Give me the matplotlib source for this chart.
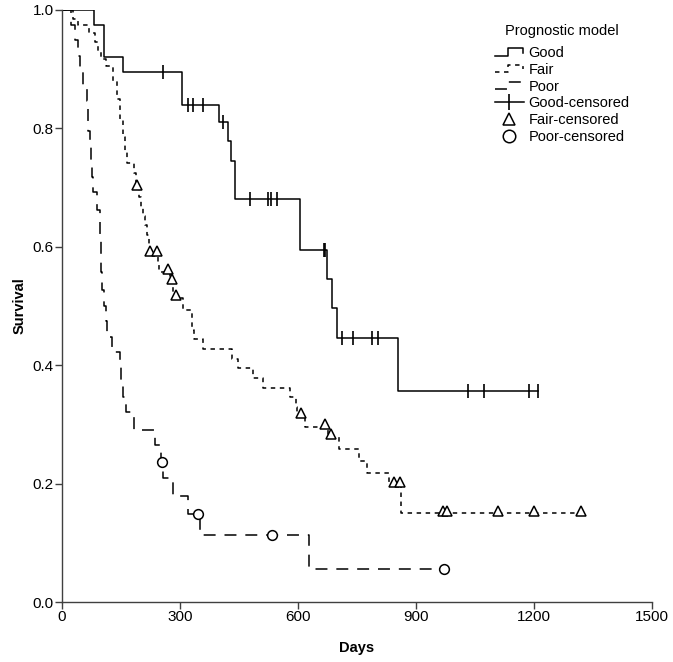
import numpy as np
import matplotlib
matplotlib.use("Agg")
import matplotlib.pyplot as plt
from matplotlib.lines import Line2D
from matplotlib.legend_handler import HandlerBase

plt.rcParams['font.family'] = ['Liberation Sans', 'DejaVu Sans']
plt.rcParams['lines.scale_dashes'] = False

# Kaplan-Meier step data (day of drop, survival after drop)
good_t = [0, 82, 108, 156, 304, 399, 423, 430, 440, 604, 606, 673, 687, 698, 853]
good_s = [1.0, 0.974, 0.921, 0.895, 0.840, 0.810, 0.778, 0.745, 0.680, 0.638, 0.595, 0.545, 0.496, 0.446, 0.357]
good_cens = [258, 320, 332, 358, 410, 478, 524, 531, 547, 665, 669, 713, 739, 789, 803, 1031, 1073, 1188, 1210]

fair_t = [0, 28, 40, 68, 84, 91, 98, 112, 130, 139, 147, 154, 160, 165, 183, 188, 196, 202, 207, 212, 217, 221,
          224, 245, 247, 275, 282, 308, 330, 335, 358, 433, 448, 485, 511, 580, 594, 598, 618, 676, 705, 755,
          776, 832, 862]
fair_s = [1.0, 0.985, 0.975, 0.961, 0.946, 0.931, 0.917, 0.905, 0.880, 0.850, 0.815, 0.785, 0.760, 0.741, 0.725,
          0.700, 0.684, 0.668, 0.652, 0.636, 0.620, 0.605, 0.589, 0.575, 0.558, 0.541, 0.514, 0.494, 0.460, 0.444,
          0.427, 0.410, 0.396, 0.379, 0.362, 0.346, 0.330, 0.315, 0.296, 0.279, 0.258, 0.238, 0.218, 0.199, 0.150]
fair_cens = [191, 225, 241, 270, 280, 290, 607, 669, 683, 845, 859, 969, 978, 1108, 1201, 1320]

poor_t = [0, 22, 33, 41, 47, 53, 63, 65, 67, 71, 73, 77, 78, 90, 96, 97, 98, 99, 102, 107, 112, 115, 128, 147,
          151, 155, 164, 183, 236, 252, 257, 281, 321, 350, 629]
poor_s = [1.0, 0.974, 0.949, 0.923, 0.897, 0.872, 0.846, 0.821, 0.795, 0.769, 0.744, 0.718, 0.692, 0.662, 0.636,
          0.610, 0.584, 0.558, 0.527, 0.500, 0.474, 0.448, 0.422, 0.397, 0.372, 0.346, 0.321, 0.290, 0.265, 0.237,
          0.209, 0.179, 0.149, 0.113, 0.056]
poor_cens = [254, 346, 535, 970]

FAIR_DASH = (3.2, 3.3)
POOR_DASH = (8.6, 6.4)
LW = 1.1


def surv_at(t, s, c):
    idx = np.searchsorted(t, c, side='right') - 1
    return np.array(s)[idx]


class StepHandler(HandlerBase):
    def create_artists(self, legend, orig_handle, xdescent, ydescent, width, height, fontsize, trans):
        x0 = -xdescent
        xs = np.array([0, 0.45, 0.45, 0.95, 0.95]) * width + x0
        ys = np.array([0.15, 0.15, 0.85, 0.85, 0.45]) * height - ydescent
        ln = Line2D(xs, ys, color='black', lw=LW, linestyle=orig_handle.get_linestyle(),
                    transform=trans)
        if orig_handle.get_linestyle() != '-':
            ln.set_dashes(orig_handle._dash_pattern[1])
        return [ln]


fig = plt.figure(figsize=(6.73, 6.62), dpi=100)
ax = fig.add_axes([0.0921, 0.0906, 0.8767, 0.8943])

for t, s, c, dash in [(good_t, good_s, good_cens, None),
                      (fair_t, fair_s, fair_cens, FAIR_DASH),
                      (poor_t, poor_s, poor_cens, POOR_DASH)]:
    tt = list(t) + [max(c)]
    ss = list(s) + [s[-1]]
    ln, = ax.step(tt, ss, where='post', color='black', lw=LW)
    if dash is not None:
        ln.set_dashes(dash)

ax.plot(good_cens, surv_at(good_t, good_s, good_cens), linestyle='none', marker='|',
        markersize=10, markeredgewidth=1.2, color='black')
ax.plot(fair_cens, surv_at(fair_t, fair_s, fair_cens) + 0.004, linestyle='none', marker='^',
        markersize=6.5, markerfacecolor='white', markeredgecolor='black', markeredgewidth=1.1)
ax.plot(poor_cens, surv_at(poor_t, poor_s, poor_cens), linestyle='none', marker='o',
        markersize=7, markerfacecolor='white', markeredgecolor='black', markeredgewidth=1.1)

ax.set_xlim(0, 1500)
ax.set_ylim(0, 1.0)
ax.set_xticks([0, 300, 600, 900, 1200, 1500])
ax.set_yticks([0.0, 0.2, 0.4, 0.6, 0.8, 1.0])
ax.set_yticklabels(['0.0', '0.2', '0.4', '0.6', '0.8', '1.0'])
ax.spines['top'].set_visible(False)
ax.spines['right'].set_visible(False)
for sp in ['left', 'bottom']:
    ax.spines[sp].set_color('#404040')
    ax.spines[sp].set_linewidth(1.0)
ax.tick_params(direction='out', length=5, width=1.0, color='#404040', labelsize=11, pad=1)
ax.set_xlabel('Days', fontweight='bold', fontsize=10.5, labelpad=12)
ax.set_ylabel('Survival', fontweight='bold', fontsize=10.5, labelpad=4)

h_good = Line2D([], [], color='black', lw=LW, linestyle='-')
h_fair = Line2D([], [], color='black', lw=LW, linestyle='--', dashes=FAIR_DASH)
h_poor = Line2D([], [], color='black', lw=LW, linestyle='--', dashes=POOR_DASH)
h_gc = Line2D([], [], color='black', lw=LW, marker='|', markersize=12, markeredgewidth=1.2)
h_fc = Line2D([], [], color='black', linestyle='none', marker='^', markersize=8,
              markerfacecolor='white', markeredgewidth=1.1)
h_pc = Line2D([], [], color='black', linestyle='none', marker='o', markersize=9,
              markerfacecolor='white', markeredgewidth=1.1)

leg = fig.legend([h_good, h_fair, h_poor, h_gc, h_fc, h_pc],
                 ['Good', 'Fair', 'Poor', 'Good-censored', 'Fair-censored', 'Poor-censored'],
                 title='Prognostic model', loc='upper left', bbox_to_anchor=(489 / 673, 1 - 18 / 662),
                 frameon=False, fontsize=10.5, title_fontsize=10.5, handlelength=2.0,
                 handletextpad=0.3, labelspacing=0.19, borderaxespad=0,
                 handler_map={h_good: StepHandler(), h_fair: StepHandler(), h_poor: StepHandler()})
leg._legend_box.sep = 6

fig.savefig('out.png', dpi=100)
